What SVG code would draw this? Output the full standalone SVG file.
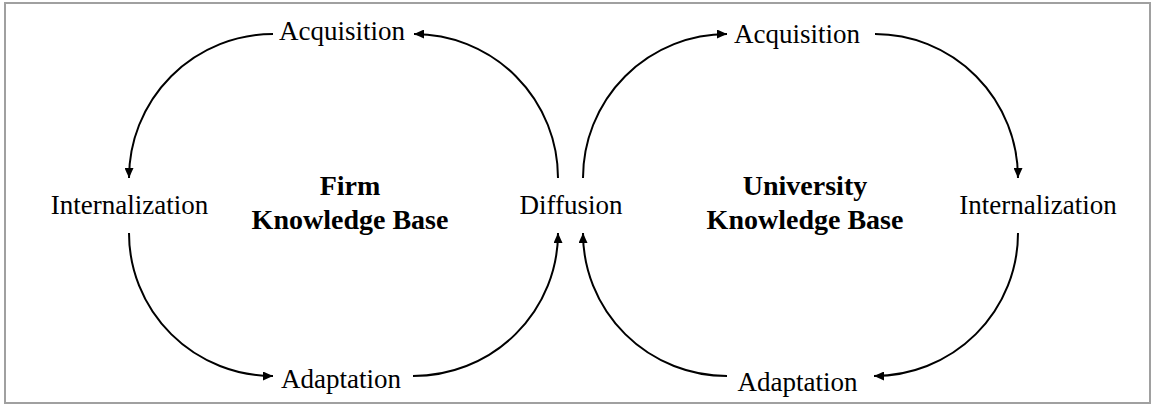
<svg xmlns="http://www.w3.org/2000/svg" width="1156" height="406" viewBox="0 0 1156 406">
<style>
.lbl{font-family:"Liberation Serif","Times New Roman",serif;font-size:27px;fill:#000;text-anchor:middle}
.ttl{font-family:"Liberation Serif","Times New Roman",serif;font-size:28px;font-weight:bold;fill:#000;text-anchor:middle}
.arc{fill:none;stroke:#000;stroke-width:2;marker-end:url(#ah)}
</style>
<defs>
<marker id="ah" markerUnits="userSpaceOnUse" markerWidth="11" markerHeight="9" refX="10" refY="4.5" orient="auto">
<path d="M0,0 L10,4.5 L0,9 z" fill="#000"/>
</marker>
</defs>
<rect x="5" y="3" width="1145" height="400" fill="#fff" stroke="#a0a0a0" stroke-width="2"/>
<g id="connectors">
<path class="arc" d="M273,34 A144,144 0 0 0 129,178"/>
<path class="arc" d="M558,178 A144,144 0 0 0 414,34"/>
<path class="arc" d="M129,233 A144,143 0 0 0 273,376"/>
<path class="arc" d="M413,376 A145,143 0 0 0 558,233"/>
<path class="arc" d="M583,178 A144,144 0 0 1 727,34"/>
<path class="arc" d="M875,34 A143,144 0 0 1 1018,178"/>
<path class="arc" d="M1018,233 A144,143 0 0 1 874,376"/>
<path class="arc" d="M727,376 A144,143 0 0 1 583,233"/>
</g>
<g id="firm-acquisition"><text class="lbl" x="342" y="40">Acquisition</text></g>
<g id="firm-internalization"><text class="lbl" x="129.5" y="214">Internalization</text></g>
<g id="firm-adaptation"><text class="lbl" x="341" y="388">Adaptation</text></g>
<g id="diffusion"><text class="lbl" x="571" y="214">Diffusion</text></g>
<g id="firm-kb"><text class="ttl" x="350" y="195">Firm</text><text class="ttl" x="350" y="229">Knowledge Base</text></g>
<g id="univ-acquisition"><text class="lbl" x="797" y="43">Acquisition</text></g>
<g id="univ-internalization"><text class="lbl" x="1038" y="214">Internalization</text></g>
<g id="univ-adaptation"><text class="lbl" x="797.5" y="391">Adaptation</text></g>
<g id="univ-kb"><text class="ttl" x="805" y="195">University</text><text class="ttl" x="805" y="229">Knowledge Base</text></g>
</svg>
